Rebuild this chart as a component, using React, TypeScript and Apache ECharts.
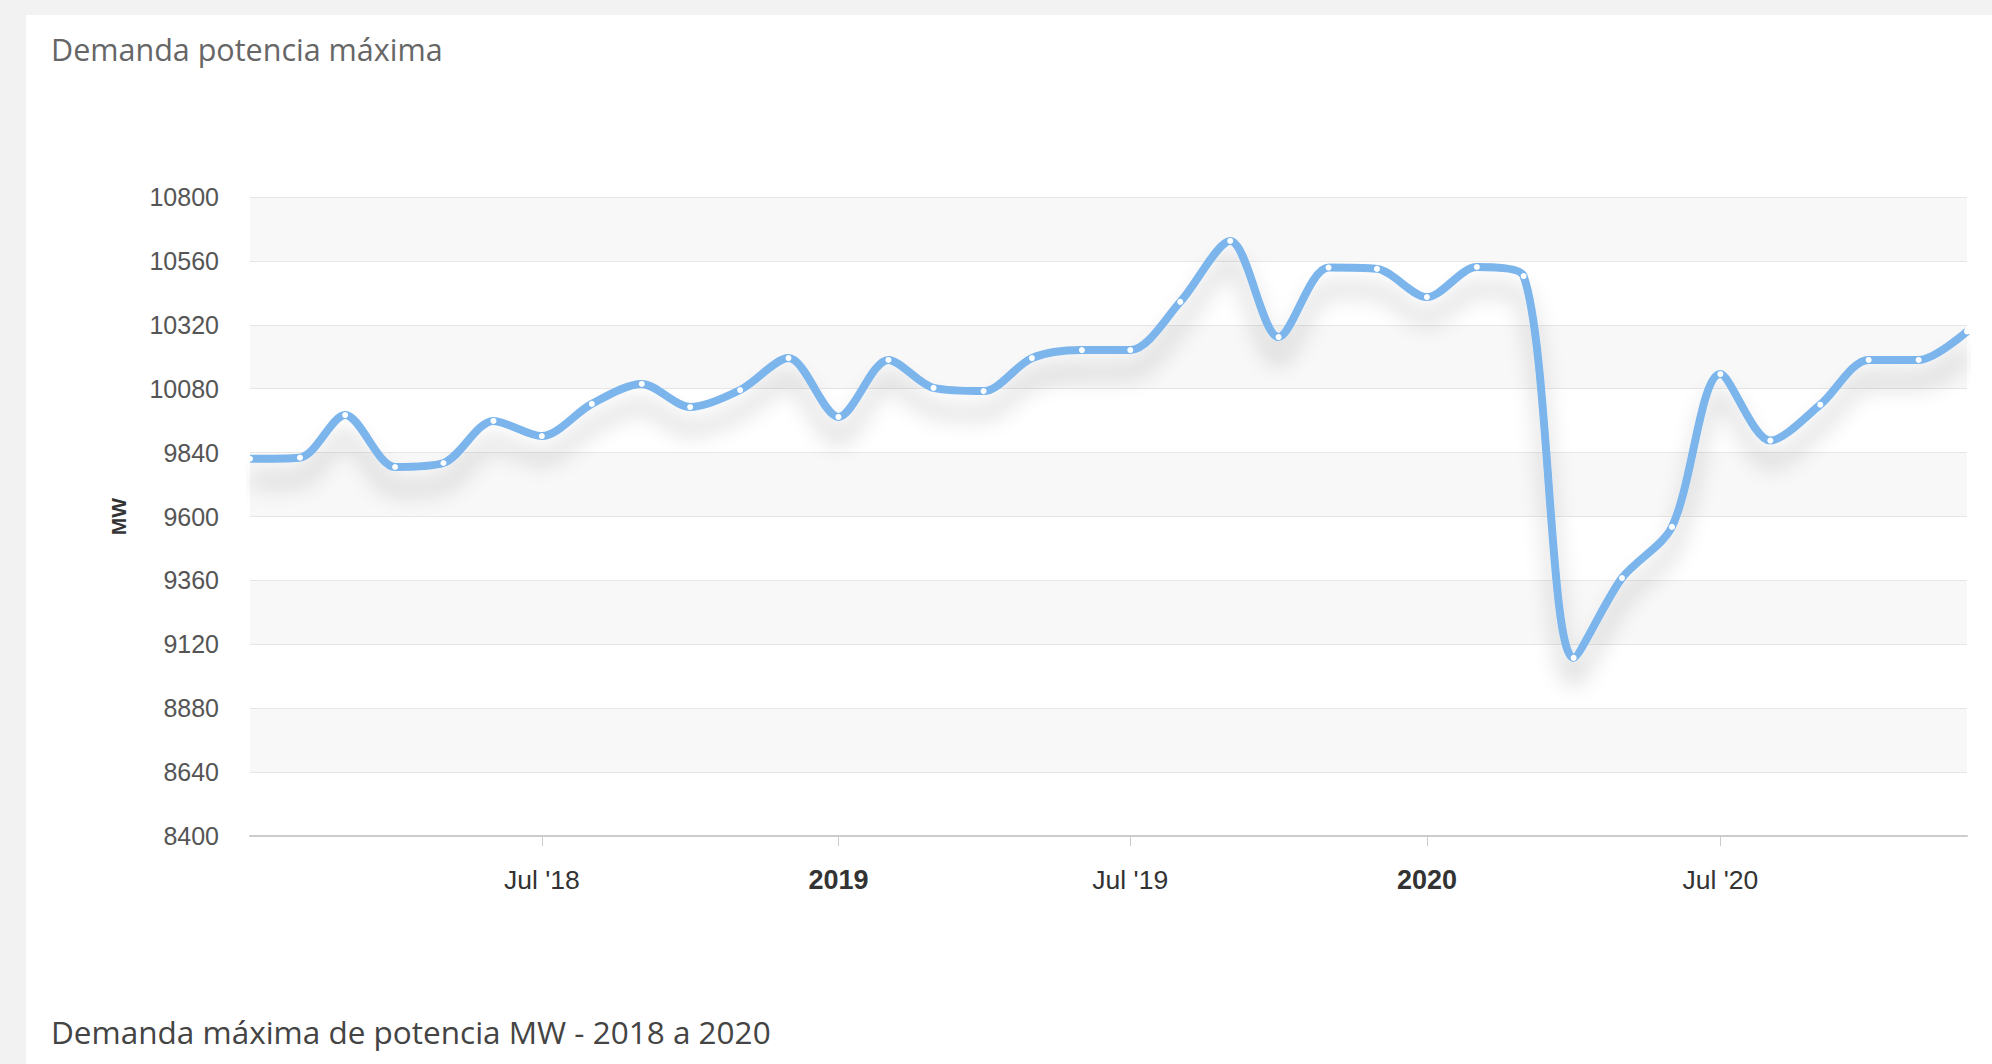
import React, { useEffect, useRef } from "react";
import * as echarts from "echarts";

const months: string[] = [
  "2018-01", "2018-02", "2018-03", "2018-04", "2018-05", "2018-06",
  "2018-07", "2018-08", "2018-09", "2018-10", "2018-11", "2018-12",
  "2019-01", "2019-02", "2019-03", "2019-04", "2019-05", "2019-06",
  "2019-07", "2019-08", "2019-09", "2019-10", "2019-11", "2019-12",
  "2020-01", "2020-02", "2020-03", "2020-04", "2020-05", "2020-06",
  "2020-07", "2020-08", "2020-09", "2020-10", "2020-11", "2020-12",
];

const demandMW: number[] = [
  9817, 9821, 9981, 9786, 9801, 9959, 9902, 10023, 10098, 10011, 10075, 10195,
  9974, 10188, 10083, 10071, 10195, 10225, 10225, 10406, 10635, 10274, 10535, 10530,
  10424, 10537, 10503, 9069, 9369, 9561, 10135, 9885, 10020, 10188, 10188, 10295,
];

const xTickMonths: string[] = ["2018-07", "2019-01", "2019-07", "2020-01", "2020-07"];

const titleText = "Demanda potencia máxima";
const footerText = "Demanda máxima de potencia MW - 2018 a 2020";
const yAxisTitle = "MW";

const yMin = 8400;
const yMax = 10800;
const yStep = 240;

function toTime(ym: string): number {
  const [y, m] = ym.split("-").map(Number);
  return Date.UTC(y, m - 1, 1);
}

export default function App() {
  const ref = useRef<HTMLDivElement>(null);

  useEffect(() => {
    if (!ref.current) return;
    const chart = echarts.init(ref.current, undefined, { renderer: "svg" });
    const data = months.map((m, i) => [toTime(m), demandMW[i]]);
    const tickValues = xTickMonths.map(toTime);

    chart.setOption({
      animation: false,
      backgroundColor: "#f2f2f2",
      graphic: [
        {
          type: "rect",
          shape: { x: 26, y: 15, width: 1992 - 26, height: 1064 - 15 },
          style: { fill: "#ffffff" },
          z: -10,
          silent: true,
        },
        {
          type: "text",
          x: 51,
          y: 49,
          style: {
            text: titleText,
            font: "30.5px 'Open Sans', sans-serif",
            fill: "#666666",
            textVerticalAlign: "middle",
          },
        },
        {
          type: "text",
          x: 51,
          y: 1031,
          style: {
            text: footerText,
            font: "31.5px 'Open Sans', sans-serif",
            fill: "#444444",
            textVerticalAlign: "middle",
          },
        },
      ],
      grid: { left: 250, right: 25, top: 197, bottom: 228, containLabel: false },
      xAxis: {
        type: "value",
        min: toTime("2018-01"),
        max: toTime("2020-12"),
        axisLine: { show: true, onZero: false, lineStyle: { color: "#cccccc", width: 2 } },
        axisTick: {
          show: true,
          customValues: tickValues,
          length: 10,
          lineStyle: { color: "#cccccc", width: 1 },
        },
        splitLine: { show: false },
        axisLabel: {
          customValues: tickValues,
          margin: 30,
          fontFamily: "'Liberation Sans', Arial, sans-serif",
          fontSize: 26.5,
          color: "#333333",
          formatter: (v: number) => {
            const d = new Date(v);
            if (d.getUTCMonth() === 0) return "{b|" + d.getUTCFullYear() + "}";
            return "Jul '" + String(d.getUTCFullYear()).slice(2);
          },
          rich: {
            b: {
              fontWeight: "bold",
              fontSize: 27,
              fontFamily: "'Liberation Sans', Arial, sans-serif",
              color: "#333333",
            },
          },
        },
      },
      yAxis: {
        type: "value",
        min: yMin,
        max: yMax,
        interval: yStep,
        name: yAxisTitle,
        nameLocation: "middle",
        nameRotate: 90,
        nameGap: 121,
        nameTextStyle: {
          fontFamily: "'Liberation Sans', Arial, sans-serif",
          fontSize: 21,
          fontWeight: "bold",
          color: "#333333",
        },
        axisLine: { show: false },
        axisTick: { show: false },
        axisLabel: {
          margin: 31,
          fontFamily: "'Liberation Sans', Arial, sans-serif",
          fontSize: 25,
          color: "#555555",
          formatter: (v: number) => String(v),
        },
        splitLine: { show: true, lineStyle: { color: "#e6e6e6", width: 1 } },
        splitArea: { show: true, areaStyle: { color: ["#ffffff", "#f8f8f8"] } },
      },
      series: [
        {
          type: "line",
          data,
          smooth: 0.3,
          symbol: "circle",
          symbolSize: 6,
          showSymbol: true,
          itemStyle: { color: "#ffffff", borderWidth: 0 },
          lineStyle: {
            color: "#7cb5ec",
            width: 8,
            shadowColor: "rgba(0,0,0,0.22)",
            shadowBlur: 22,
            shadowOffsetY: 22,
          },
          z: 5,
        },
      ],
    });

    return () => chart.dispose();
  }, []);

  return (
    <div
      ref={ref}
      style={{ position: "fixed", left: 0, top: 0, width: 1992, height: 1064 }}
    />
  );
}
